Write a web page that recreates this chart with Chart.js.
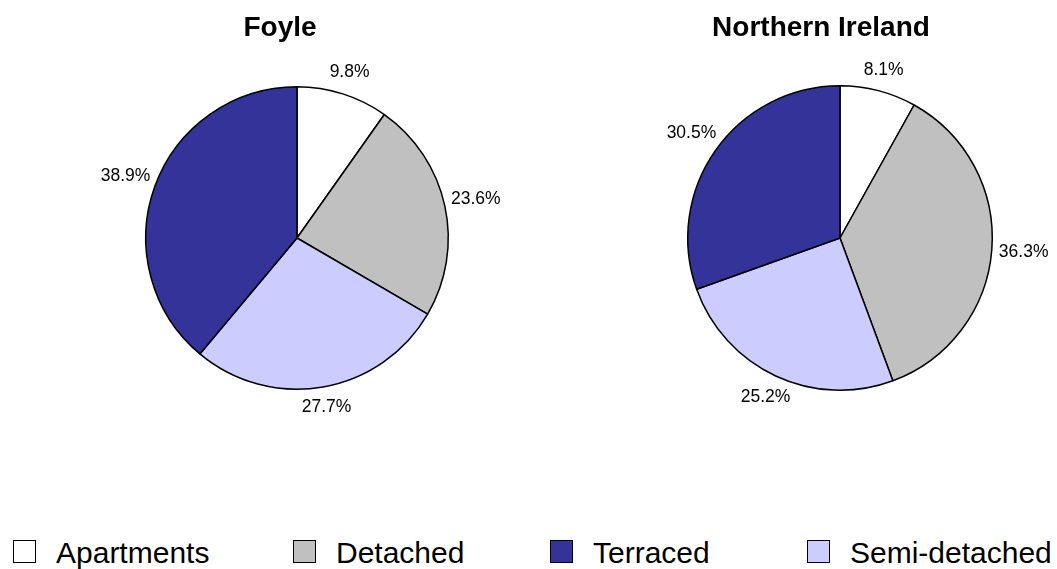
<!DOCTYPE html>
<html>
<head>
<meta charset="utf-8">
<script src="https://cdn.jsdelivr.net/npm/chart.js@4/dist/chart.umd.min.js"></script>
<style>
  html, body { margin: 0; padding: 0; background: #fff; }
  #wrap { position: relative; width: 1057px; height: 569px; overflow: hidden; font-family: "Liberation Sans", Arial, sans-serif; }
  canvas { position: absolute; top: 0; }
  .title { position: absolute; top: 11px; font-weight: bold; font-size: 28px; line-height: 32px; color: #000; white-space: nowrap; transform: translateX(-50%); }
  #legend { position: absolute; left: 13px; top: 536px; display: grid; grid-template-columns: 280px 257px 257px auto; }
  .item { display: flex; align-items: flex-start; font-size: 30px; line-height: 34px; color: #000; white-space: nowrap; }
  .box { width: 21px; height: 21px; border: 1.5px solid #000; margin-top: 4px; margin-right: 20px; flex: none; }
</style>
</head>
<body>
<div id="wrap">
  <canvas id="c1" width="528" height="470" style="left:0px"></canvas>
  <canvas id="c2" width="529" height="470" style="left:528px"></canvas>
  <div class="title" id="t1" style="left:280px"></div>
  <div class="title" id="t2" style="left:821px"></div>
  <div id="legend"></div>
</div>
<script>
const categories = ['Apartments', 'Detached', 'Semi-detached', 'Terraced'];
const colors = ['#FFFFFF', '#C0C0C0', '#CCCCFF', '#333399'];
const foyleValues = [9.8, 23.6, 27.7, 38.9];
const niValues = [8.1, 36.3, 25.2, 30.5];
const titles = ['Foyle', 'Northern Ireland'];
const legendOrder = ['Apartments', 'Detached', 'Terraced', 'Semi-detached'];

const outsideLabels = {
  id: 'outsideLabels',
  afterDatasetsDraw(chart) {
    const ctx = chart.ctx;
    const meta = chart.getDatasetMeta(0);
    const vals = chart.data.datasets[0].data;
    ctx.save();
    ctx.font = '17.5px "Liberation Sans", Arial, sans-serif';
    ctx.fillStyle = '#000';
    ctx.textAlign = 'center';
    ctx.textBaseline = 'middle';
    meta.data.forEach((arc, i) => {
      const p = arc.getProps(['x', 'y', 'startAngle', 'endAngle', 'outerRadius'], true);
      const mid = (p.startAngle + p.endAngle) / 2;
      const d = p.outerRadius + 18 + 14 * Math.abs(Math.cos(mid));
      ctx.fillText(vals[i].toFixed(1) + '%', p.x + d * Math.cos(mid), p.y + d * Math.sin(mid));
    });
    ctx.restore();
  }
};

function makePie(id, values, padding) {
  return new Chart(document.getElementById(id), {
    type: 'pie',
    data: {
      labels: categories,
      datasets: [{
        data: values,
        backgroundColor: colors,
        borderColor: '#000000',
        borderWidth: 1.5
      }]
    },
    options: {
      responsive: false,
      animation: false,
      layout: { padding: padding },
      plugins: {
        legend: { display: false },
        tooltip: { enabled: false },
        title: { display: false }
      }
    },
    plugins: [outsideLabels]
  });
}

makePie('c1', foyleValues, { left: 145, right: 79, top: 86, bottom: 80 });
makePie('c2', niValues, { left: 159, right: 64, top: 85, bottom: 79 });

document.getElementById('t1').textContent = titles[0];
document.getElementById('t2').textContent = titles[1];

const legend = document.getElementById('legend');
legendOrder.forEach(name => {
  const idx = categories.indexOf(name);
  const item = document.createElement('div');
  item.className = 'item';
  const box = document.createElement('span');
  box.className = 'box';
  box.style.background = colors[idx];
  const txt = document.createElement('span');
  txt.textContent = name;
  item.appendChild(box);
  item.appendChild(txt);
  legend.appendChild(item);
});
</script>
</body>
</html>
